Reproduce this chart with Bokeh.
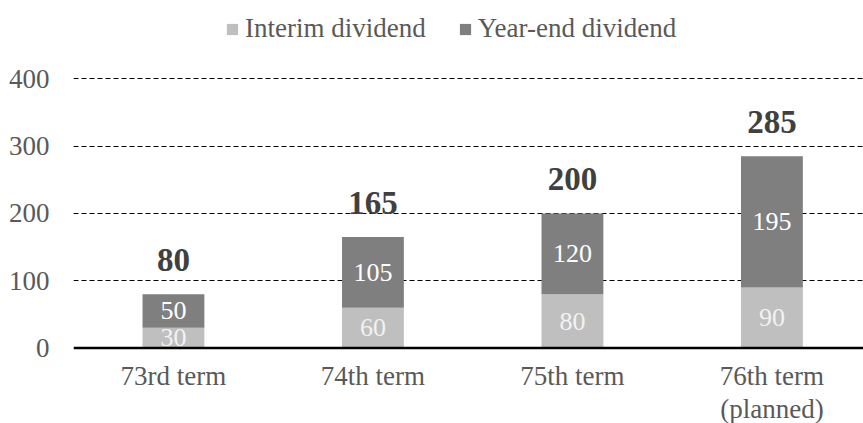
from bokeh.plotting import figure
from bokeh.models import ColumnDataSource, Range1d, FixedTicker, Legend, LegendItem, Span
from bokeh.core.properties import value
from bokeh.embed import file_html
from bokeh.resources import INLINE

terms = ["73rd term", "74th term", "75th term", "76th term\n(planned)"]
interim = [30, 60, 80, 90]
year_end = [50, 105, 120, 195]
totals = [80, 165, 200, 285]
y_ticks = [0, 100, 200, 300, 400]

FONT = "Liberation Serif"
xs = list(range(len(terms)))

src = ColumnDataSource(dict(
    x=xs,
    term=terms,
    base=[0] * len(terms),
    interim=interim,
    year_end=year_end,
    top=[a + b for a, b in zip(interim, year_end)],
    total=totals,
    interim_mid=[a / 2 for a in interim],
    year_mid=[a + b / 2 for a, b in zip(interim, year_end)],
    interim_lbl=[str(v) for v in interim],
    year_lbl=[str(v) for v in year_end],
    total_lbl=[str(v) for v in totals],
))

p = figure(width=863, height=423, output_backend="svg", toolbar_location=None,
           x_range=Range1d(-0.501, 3.459), y_range=Range1d(-112.3, 516.7),
           min_border_left=73, min_border_right=0, min_border_top=0, min_border_bottom=0)
p.outline_line_color = None
p.background_fill_color = "white"
p.border_fill_color = "white"

r1 = p.vbar(x="x", bottom=0, top="interim", width=0.31, source=src,
            fill_color="#BFBFBF", line_color=None)
r2 = p.vbar(x="x", bottom="interim", top="top", width=0.31, source=src,
            fill_color="#7F7F7F", line_color=None)

p.text(x="x", y="interim_mid", text="interim_lbl", source=src,
       text_font=value(FONT), text_font_size="26px", text_color="#F2F2F2",
       text_align="center", text_baseline="middle")
p.text(x="x", y="year_mid", text="year_lbl", source=src,
       text_font=value(FONT), text_font_size="26px", text_color="#FFFFFF",
       text_align="center", text_baseline="middle")
p.text(x="x", y="total", text="total_lbl", source=src, y_offset=-34,
       text_font=value(FONT), text_font_size="33px", text_font_style="bold",
       text_color="#404040", text_align="center", text_baseline="alphabetic")

# category labels below the baseline
p.text(x="x", y="base", text="term", source=src, y_offset=13,
       text_font=value(FONT), text_font_size="27px", text_color="#595959",
       text_align="center", text_baseline="top", text_line_height=1.1)

# baseline (x axis line)
p.add_layout(Span(location=0, dimension="width", line_color="black", line_width=2.5))

p.xaxis.visible = False
p.yaxis.ticker = FixedTicker(ticks=y_ticks)
p.yaxis.axis_line_color = None
p.yaxis.major_tick_line_color = None
p.yaxis.minor_tick_line_color = None
p.yaxis.major_tick_out = 0
p.yaxis.major_tick_in = 0
p.yaxis.major_label_standoff = 24
p.yaxis.major_label_text_font = FONT
p.yaxis.major_label_text_font_size = "27px"
p.yaxis.major_label_text_color = "#595959"

p.xgrid.grid_line_color = None
p.ygrid.ticker = FixedTicker(ticks=y_ticks[1:])
p.ygrid.grid_line_color = "black"
p.ygrid.grid_line_dash = "5 3"
p.ygrid.grid_line_width = 1

legend = Legend(items=[LegendItem(label="Interim dividend", renderers=[r1]),
                       LegendItem(label="Year-end dividend", renderers=[r2])],
                orientation="horizontal", location=(152, 379),
                border_line_color=None, background_fill_alpha=0,
                label_text_font=FONT, label_text_font_size="27px",
                label_text_color="#595959", glyph_width=14, glyph_height=14,
                label_standoff=6, spacing=32, padding=0, margin=0)
p.add_layout(legend, "center")

open("out.html", "w").write(file_html(p, INLINE))
